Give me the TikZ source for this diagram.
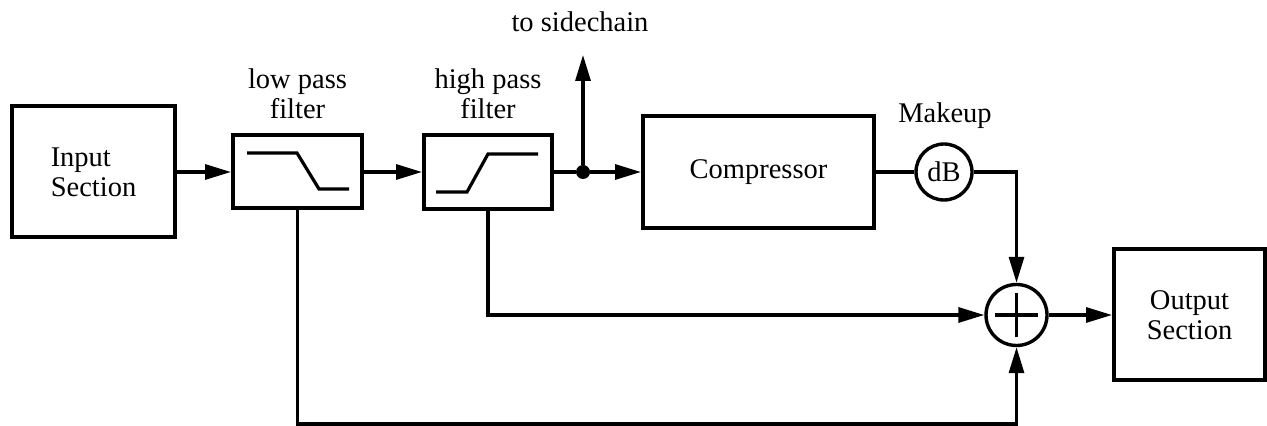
\documentclass[tikz,border=0pt]{standalone}
\usepackage{fontspec}
\setmainfont{Liberation Serif}
\usetikzlibrary{arrows.meta,positioning,calc}
\tikzset{
  blk/.style={rectangle, draw, line width=2pt, inner sep=0pt, align=center},
  ring/.style={circle, draw, line width=1.7pt, inner sep=0pt},
  lbl/.style={inner sep=0pt, align=center},
  wire/.style={line width=1.6pt},
  arr/.style={wire, -{Triangle[length=13pt, width=7.5pt]}}
}

\begin{document}
\begin{tikzpicture}[x=0.5pt, y=-0.5pt, node distance=7pt,
    font=\fontsize{14.25}{15}\selectfont]
  \useasboundingbox (0,0) rectangle (1267,426);

  % blocks
  \node[blk, minimum width=81.5pt, minimum height=65.5pt, align=left] (input) at (93.5,172) {Input\\Section};
  \node[blk, minimum width=64.5pt, minimum height=36.5pt] (lp) at (297.5,172) {};
  \node[blk, minimum width=64pt, minimum height=37pt] (hp) at (488,172) {};
  \node[blk, minimum width=115.5pt, minimum height=56pt] (comp) at (758.5,172) {Compressor};
  \node[ring, minimum size=28pt] (db) at (944,172) {dB};
  \node[ring, minimum size=30.5pt] (sum) at (1016.5,315) {};
  \node[blk, minimum width=75.5pt, minimum height=65.5pt] (output) at (1189.5,315) {Output\\Section};
  \node[circle, fill, inner sep=0pt, minimum size=7pt] (tap) at (583,172) {};
  \coordinate (side) at (583,55);
  \coordinate (lpturn) at (297.5,424);

  % labels
  \node[lbl, above=of lp] (lplbl) {low pass\\filter};
  \node[lbl, above=of hp] (hplbl) {high pass\\filter};
  \node[lbl, anchor=base] (sidelbl) at (580,32) {to sidechain};
  \node[lbl, anchor=base] (mulbl) at (945,123) {Makeup};

  % filter curves and plus sign
  \draw[wire] ($(lp)+(-50.5,-19)$) -- ++(50,0) -- ++(22,36) -- ++(30,0);
  \draw[wire] ($(hp)+(-52,20)$) -- ++(31,0) -- ++(21,-38) -- ++(50,0);
  \draw[wire] ($(sum)+(-21.5,0)$) -- ($(sum)+(21.5,0)$)
              ($(sum)+(0,-22)$) -- ($(sum)+(0,22)$);

  % signal flow
  \draw[arr] (input) -- (lp);
  \draw[arr] (lp) -- (hp);
  \draw[wire] (hp) -- (tap);
  \draw[arr] (tap) -- (comp);
  \draw[arr] (tap) -- (side);
  \draw[wire] (comp) -- (db);
  \draw[arr] (db) -| (sum);
  \draw[arr] (hp) |- (sum);
  \draw[arr] (lp) -- (lpturn) -| (sum);
  \draw[arr] (sum) -- (output);
\end{tikzpicture}
\end{document}
